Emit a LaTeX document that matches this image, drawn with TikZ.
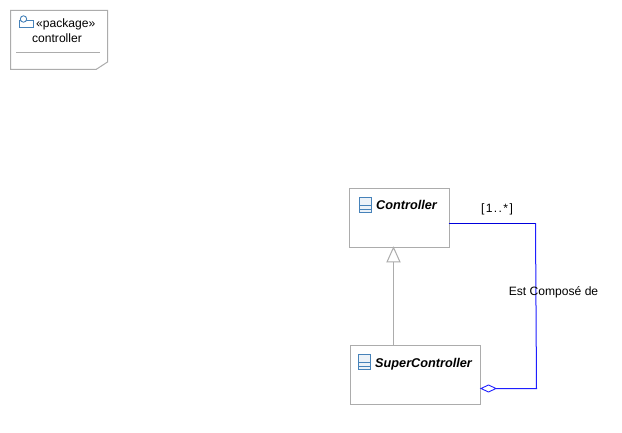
\documentclass[tikz,border=0pt]{standalone}
\usepackage{fontspec}
\setmainfont{Liberation Sans}
\usetikzlibrary{arrows.meta}
\definecolor{boxgray}{RGB}{172,172,172}
\definecolor{iconblue}{RGB}{70,130,185}
\definecolor{assocblue}{RGB}{30,30,255}
\definecolor{assocdark}{RGB}{0,0,220}
\tikzset{
  x=1pt,y=-1pt,
  classbox/.style={draw=boxgray,fill=white,line width=1pt,minimum width=#1,minimum height=59pt,inner sep=0pt,outer sep=0pt,anchor=north west},
  lbl/.style={font=\fontsize{12.1}{14}\selectfont,inner sep=0pt,anchor=base,text=black},
  classlbl/.style={font=\fontsize{12.7}{14}\selectfont\bfseries\itshape,inner sep=0pt,anchor=base west,text=black},
  icon/.style={draw=iconblue,line width=0.9pt,fill=white},
  inherit/.style={draw=boxgray,line width=1pt},
  assoc/.style={draw=assocblue,line width=1pt}
}
\newcommand{\classicon}[2]{%
  \draw[icon,fill=iconblue!10] (#1,#2) rectangle ++(12,14.5);
  \draw[iconblue,line width=0.9pt] (#1,#2+8) -- ++(12,0) (#1,#2+11.5) -- ++(12,0);
}
\begin{document}
\begin{tikzpicture}
\useasboundingbox (0,0) rectangle (622,433);
\fill[white] (0,0) rectangle (622,433);
% package
\draw[draw=boxgray,line width=1pt,fill=white] (10.5,10.5) -- (107.5,10.5) -- (107.5,62) -- (96,69.5) -- (10.5,69.5) -- cycle;
\draw[boxgray,line width=1pt] (16,52.5) -- (100,52.5);
\draw[icon] (19.5,20.5) rectangle (33.5,27.5);
\draw[icon] (23.5,19) circle (3.2);
\node[lbl,anchor=base west] (pkgst) at (36,28) {«package»};
\node[lbl] (pkgname) at (57,43) {controller};
% classes
\node[classbox=99.5pt] (ctrl) at (349.5,188.5) {};
\node[classbox=130pt] (sup) at (350.5,345.5) {};
\classicon{359}{197.5}
\classicon{358.5}{354.5}
\node[classlbl] (ctrllbl) at (376,210) {Controller};
\node[classlbl] (suplbl) at (375,367.5) {SuperController};
% inheritance
\coordinate (tipc) at (393.5,247.5);
\coordinate (basec) at (393.5,262);
\coordinate (supt) at (393.5,345.5);
\draw[inherit] (supt) -- (basec);
\draw[inherit,fill=white] (tipc) -- (400,262) -- (387,262) -- cycle;
% association
\coordinate (a0) at (448.5,223.5);
\coordinate (a1) at (535.5,223.5);
\coordinate (a2) at (536.5,388.5);
\coordinate (a3) at (496,388.5);
\coordinate (a4) at (481,388.5);
\draw[draw=assocdark,line width=1pt] (a0) -- (a1);
\draw[assoc] (a1) -- (a2) -- (a3);
\draw[assoc,fill=white,line width=0.9pt] (a4) -- (488.5,385) -- (496,388.5) -- (488.5,392) -- cycle;
\node[lbl] (mult) at (497,213) {[\kern1.4pt1\kern1.4pt.\kern1.4pt.\kern1.4pt*\kern1.4pt]};
\node[lbl] (role) at (553.5,295) {Est Composé de};
\end{tikzpicture}
\end{document}
